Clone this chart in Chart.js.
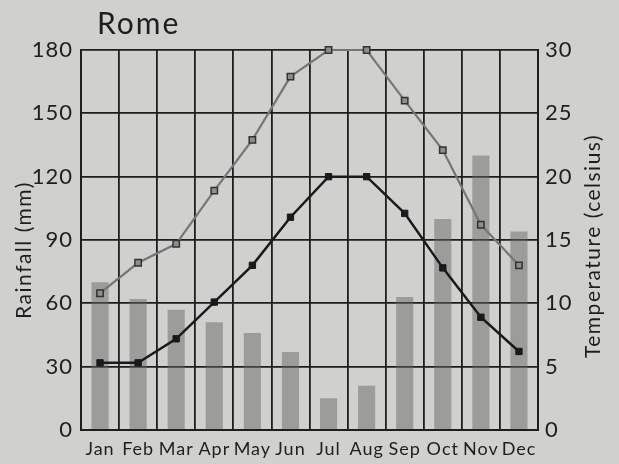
<!DOCTYPE html>
<html>
<head>
<meta charset="utf-8">
<script src="https://cdn.jsdelivr.net/npm/chart.js@4"></script>
<style>
  body { margin: 0; background: #d0d0ce; }
  #wrap { width: 619px; height: 464px; }
</style>
</head>
<body>
<div id="wrap"><canvas id="myChart" width="619" height="464"></canvas></div>
<script>
// valores
var months = ['Jan', 'Feb', 'Mar', 'Apr', 'May', 'Jun', 'Jul', 'Aug', 'Sep', 'Oct', 'Nov', 'Dec'];
var rainfall = [70, 62, 57, 51, 46, 37, 15, 21, 63, 100, 130, 94];
var tempMax = [10.8, 13.2, 14.7, 18.9, 22.9, 27.9, 30, 30, 26, 22.1, 16.2, 13];
var tempMean = [5.3, 5.3, 7.2, 10.1, 13, 16.8, 20, 20, 17.1, 12.8, 8.9, 6.2];
var rainTicks = [0, 30, 60, 90, 120, 150, 180];
var tempTicks = [0, 5, 10, 15, 20, 25, 30];

var ink = '#1e1e1e';
var fontFamily = 'Lato, sans-serif';

// título e nomes dos eixos desenhados à mão (os dois lidos de baixo para cima)
var textPlugin = {
    id: 'romeText',
    beforeDraw: function (chart) {
        chart.ctx.letterSpacing = '1px';
    },
    afterDraw: function (chart) {
        var c = chart.ctx;
        c.save();
        c.fillStyle = ink;
        c.textBaseline = 'middle';
        c.textAlign = 'left';
        c.letterSpacing = '2px';
        c.font = '30px ' + fontFamily;
        c.fillText('Rome', 97, 24);

        c.textAlign = 'center';
        c.letterSpacing = '1.5px';
        c.font = '21px ' + fontFamily;
        c.save();
        c.translate(24, chart.chartArea.top + 200);
        c.rotate(-Math.PI / 2);
        c.fillText('Rainfall (mm)', 0, 0);
        c.restore();

        c.save();
        c.translate(593, chart.chartArea.top + 196);
        c.rotate(-Math.PI / 2);
        c.fillText('Temperature (celsius)', 0, 0);
        c.restore();
        c.restore();
    }
};

var ctx = document.getElementById('myChart');
new Chart(ctx, {
    type: 'bar',
    data: {
        labels: months,
        datasets: [{
            type: 'line',
            label: 'Mean temperature',
            data: tempMean,
            yAxisID: 'yTemp',
            borderColor: '#1a1a1a',
            borderWidth: 2.5,
            pointStyle: 'rect',
            pointRadius: 4.5,
            pointBackgroundColor: '#1a1a1a',
            pointBorderColor: '#1a1a1a',
            pointBorderWidth: 1,
            clip: false,
            order: 1
        }, {
            type: 'line',
            label: 'Max temperature',
            data: tempMax,
            yAxisID: 'yTemp',
            borderColor: '#767676',
            borderWidth: 2.2,
            pointStyle: 'rect',
            pointRadius: 4.5,
            pointBackgroundColor: '#8e8e8c',
            pointBorderColor: '#333333',
            pointBorderWidth: 1.5,
            clip: false,
            order: 2
        }, {
            label: 'Rainfall',
            data: rainfall,
            yAxisID: 'yRain',
            backgroundColor: 'rgba(100,100,98,0.48)',
            borderWidth: 0,
            barPercentage: 0.45,
            categoryPercentage: 1,
            order: 3
        }]
    },
    options: {
        responsive: false,
        animation: false,
        layout: { padding: { top: 50, left: 0, right: 0, bottom: 0 } },
        scales: {
            x: {
                grid: { color: ink, lineWidth: 1.8, offset: true, drawTicks: false },
                border: { color: ink, width: 2 },
                ticks: { color: ink, font: { family: fontFamily, size: 18 }, padding: 8, maxRotation: 0, autoSkip: false },
                afterFit: function (s) { s.height = 34; }
            },
            yRain: {
                position: 'left',
                min: 0, max: 180,
                afterBuildTicks: function (s) { s.ticks = rainTicks.map(function (v) { return { value: v }; }); },
                grid: { color: ink, lineWidth: 1.8, drawTicks: false },
                border: { color: ink, width: 2 },
                ticks: { color: ink, font: { family: fontFamily, size: 22 }, padding: 8 },
                afterFit: function (s) { s.width = 81; }
            },
            yTemp: {
                position: 'right',
                min: 0, max: 30,
                afterBuildTicks: function (s) { s.ticks = tempTicks.map(function (v) { return { value: v }; }); },
                grid: { display: false, drawTicks: false },
                border: { color: ink, width: 2 },
                ticks: { color: ink, font: { family: fontFamily, size: 22 }, padding: 7 },
                afterFit: function (s) { s.width = 81; }
            }
        },
        plugins: {
            legend: { display: false },
            tooltip: { enabled: false }
        }
    },
    plugins: [textPlugin]
});
</script>
</body>
</html>
